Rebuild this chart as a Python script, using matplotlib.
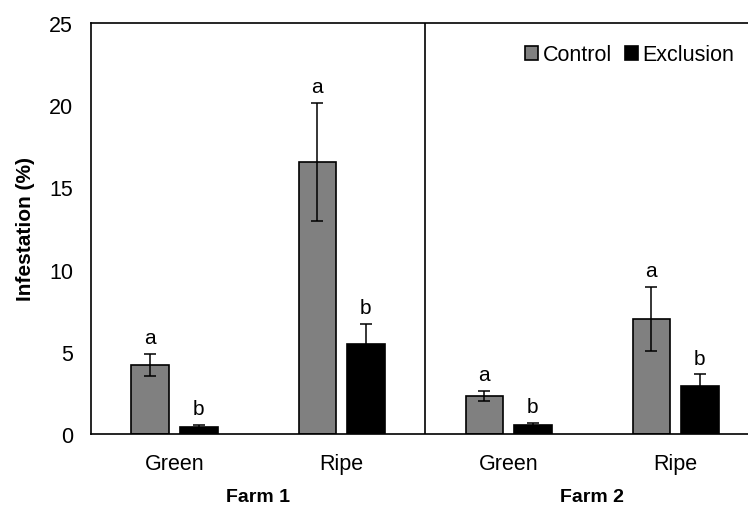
import numpy as np
import matplotlib
matplotlib.use("Agg")
import matplotlib.pyplot as plt

plt.rcParams['font.family'] = ['Liberation Sans', 'DejaVu Sans']

# data
categories = ["Green", "Ripe", "Green", "Ripe"]
farms = ["Farm 1", "Farm 2"]
control = [4.2, 16.55, 2.3, 7.0]
control_err = [0.67, 3.6, 0.32, 1.97]
exclusion = [0.45, 5.5, 0.57, 2.9]
exclusion_err = [0.12, 1.2, 0.1, 0.72]
control_letters = ["a", "a", "a", "a"]
exclusion_letters = ["b", "b", "b", "b"]

fig = plt.figure(figsize=(7.48, 5.06), dpi=100)
ax = fig.add_axes([91 / 748, 1 - 435 / 506, (748 - 91) / 748, (435 - 24) / 506])

x = np.arange(len(categories))
w = 0.225
off = 0.145

ax.bar(x - off, control, width=w, color="#808080", edgecolor="black", linewidth=1.2,
       label="Control", zorder=2)
ax.bar(x + off, exclusion, width=w, color="black", edgecolor="black", linewidth=1.2,
       label="Exclusion", zorder=2)
ax.errorbar(x - off, control, yerr=control_err, fmt="none", ecolor="black",
            elinewidth=1.1, capsize=4, capthick=1.1, zorder=3)
ax.errorbar(x + off, exclusion, yerr=exclusion_err, fmt="none", ecolor="black",
            elinewidth=1.1, capsize=4, capthick=1.1, zorder=3)

# significance letters
for i in range(len(categories)):
    ax.annotate(control_letters[i], (x[i] - off, control[i] + control_err[i]),
                xytext=(0, 5), textcoords="offset points", ha="center", va="bottom",
                fontsize=15)
    ax.annotate(exclusion_letters[i], (x[i] + off, exclusion[i] + exclusion_err[i]),
                xytext=(0, 5), textcoords="offset points", ha="center", va="bottom",
                fontsize=15)

ax.set_xlim(-0.5, 3.434)
ax.set_ylim(0, 25)
ax.set_yticks([0, 5, 10, 15, 20, 25])
ax.set_xticks(x)
ax.set_xticklabels(categories)
ax.tick_params(axis="both", length=0, labelsize=15.5)
ax.tick_params(axis="y", pad=13)
ax.tick_params(axis="x", pad=14)
ax.spines["right"].set_visible(False)
for s in ["left", "top", "bottom"]:
    ax.spines[s].set_linewidth(1.2)

# farm separator
ax.axvline(1.5, color="black", linewidth=1.2)

# farm labels
for j, farm in enumerate(farms):
    ax.text(0.5 + 2 * j, -0.152, farm, transform=ax.get_xaxis_transform(),
            ha="center", va="center", fontsize=14, fontweight="bold")

ax.set_ylabel("Infestation (%)", fontsize=15, fontweight="bold", labelpad=10)

leg = ax.legend(loc="upper right", bbox_to_anchor=(1.008, 0.995), ncol=2, frameon=False,
                fontsize=15.5, handlelength=0.6, handleheight=0.6, handletextpad=0.2,
                columnspacing=0.6)

fig.savefig("out.png", dpi=100)
